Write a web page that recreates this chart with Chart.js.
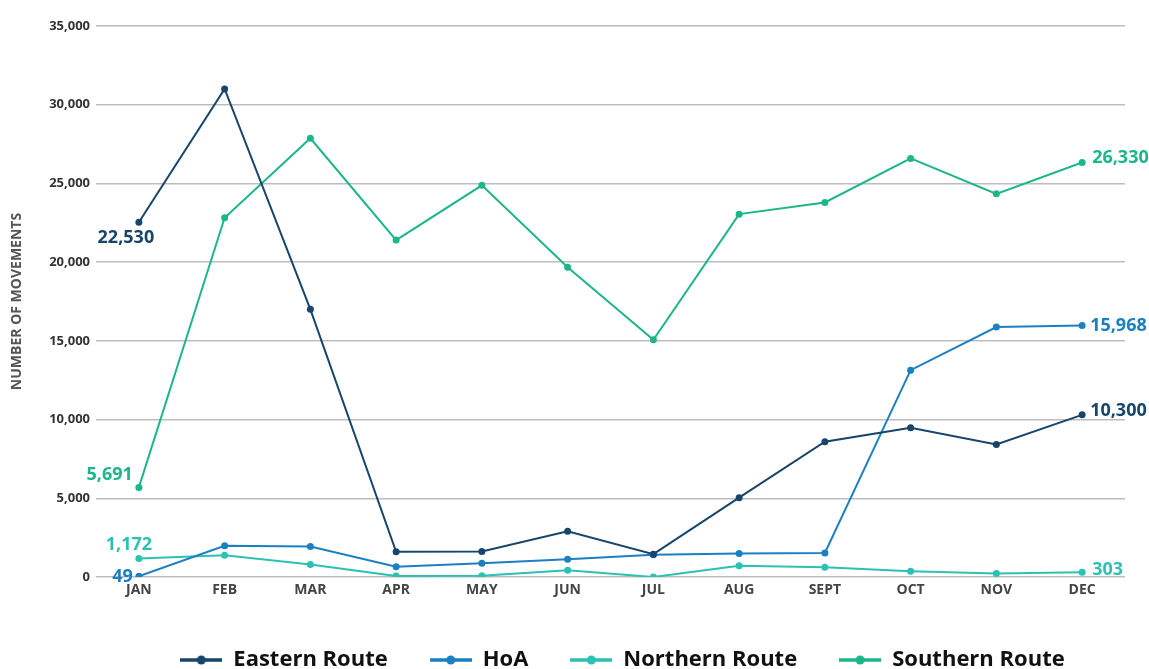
<!DOCTYPE html>
<html>
<head>
<meta charset="utf-8">
<script src="https://cdn.jsdelivr.net/npm/chart.js@4/dist/chart.umd.min.js"></script>
<style>
  html, body { margin: 0; padding: 0; background: #fff; overflow: hidden; }
  #wrap { width: 1149px; height: 669px; overflow: hidden; }
</style>
</head>
<body>
<div id="wrap"><canvas id="routesChart" width="1149" height="681"></canvas></div>
<script>
'use strict';

// ===== DATA =====
const months = ['JAN', 'FEB', 'MAR', 'APR', 'MAY', 'JUN', 'JUL', 'AUG', 'SEPT', 'OCT', 'NOV', 'DEC'];
const eastern = [22530, 31000, 17000, 1600, 1620, 2900, 1450, 5040, 8590, 9480, 8420, 10300];
const hoa = [49, 1980, 1930, 650, 870, 1120, 1420, 1490, 1530, 13140, 15880, 15968];
const northern = [1172, 1380, 790, 60, 80, 430, 0, 710, 620, 370, 230, 303];
const southern = [5691, 22820, 27870, 21400, 24880, 19680, 15070, 23050, 23790, 26590, 24340, 26330];
const seriesNames = ['Eastern Route', 'HoA', 'Northern Route', 'Southern Route'];
const yTicks = [0, 5000, 10000, 15000, 20000, 25000, 30000, 35000];

const colors = ['#18456b', '#1b80c3', '#2cc2b3', '#1cb68b'];
const FONT = "'Open Sans', 'Noto Sans', sans-serif";

// legend icon: short line with a dot in the middle
function legendIcon(color) {
    const c = document.createElement('canvas');
    c.width = 42; c.height = 12;
    const g = c.getContext('2d');
    g.strokeStyle = color; g.lineWidth = 3.5;
    g.beginPath(); g.moveTo(0, 6); g.lineTo(42, 6); g.stroke();
    g.fillStyle = color;
    g.beginPath(); g.arc(21, 6, 4.5, 0, Math.PI * 2); g.fill();
    return c;
}
const icons = colors.map(legendIcon);

// first / last value labels: [index, align, dx, dy]
const endLabels = [
    [[0, 'center', -13, 16], [11, 'left', 8, -4]],
    [[0, 'right', -6, 1], [11, 'left', 8, 0]],
    [[0, 'center', -10, -14], [11, 'left', 10, -2]],
    [[0, 'right', -6, -13], [11, 'left', 10, -5]],
];

const endLabelPlugin = {
    id: 'endLabels',
    afterDatasetsDraw(chart) {
        const { ctx } = chart;
        ctx.save();
        ctx.font = '700 18px ' + FONT;
        ctx.textBaseline = 'middle';
        chart.data.datasets.forEach((ds, i) => {
            const meta = chart.getDatasetMeta(i);
            endLabels[i].forEach(([idx, align, dx, dy]) => {
                const pt = meta.data[idx];
                ctx.fillStyle = colors[i];
                ctx.textAlign = align;
                ctx.fillText(ds.data[idx].toLocaleString('en-US'), pt.x + dx, pt.y + dy);
            });
        });
        ctx.restore();
    }
};

// legend sits a bit right of centre in the original
const legendShift = {
    id: 'legendShift',
    afterLayout(chart) {
        chart.legend.left += 60;
        chart.legend.right += 60;
    }
};

const allSeries = [eastern, hoa, northern, southern];

new Chart(document.getElementById('routesChart'), {
    type: 'line',
    data: {
        labels: months,
        datasets: allSeries.map((d, i) => ({
            label: seriesNames[i],
            data: d,
            borderColor: colors[i],
            backgroundColor: colors[i],
            borderWidth: 2,
            pointRadius: 3.5,
            pointHoverRadius: 4,
            pointBackgroundColor: colors[i],
            pointBorderWidth: 0,
            tension: 0,
        }))
    },
    options: {
        responsive: false,
        animation: false,
        layout: { padding: { top: 26, right: 24, bottom: 0, left: 0 } },
        plugins: {
            tooltip: { enabled: false },
            legend: {
                position: 'bottom',
                labels: {
                    usePointStyle: true,
                    pointStyleWidth: 42,
                    padding: 42,
                    color: '#111',
                    font: { family: FONT, size: 22, weight: '700' },
                    generateLabels(chart) {
                        const items = Chart.defaults.plugins.legend.labels.generateLabels(chart);
                        items.forEach((it, i) => { it.pointStyle = icons[i]; });
                        return items;
                    }
                }
            }
        },
        scales: {
            x: {
                offset: true,
                grid: { display: false, drawTicks: false },
                border: { display: false },
                ticks: { color: '#444', padding: 5, font: { family: FONT, size: 14, weight: '700' } },
                afterFit(scale) { scale.height = 30; }
            },
            y: {
                min: 0, max: 35000,
                afterBuildTicks(scale) { scale.ticks = yTicks.map(v => ({ value: v })); },
                grid: { color: '#bdbdbd', lineWidth: 1.5, drawTicks: false },
                border: { display: false },
                ticks: {
                    color: '#333', padding: 6,
                    font: { family: FONT, size: 13, weight: '700' },
                    callback: v => v.toLocaleString('en-US')
                },
                title: {
                    display: true,
                    text: 'NUMBER OF MOVEMENTS',
                    color: '#555',
                    padding: { top: 9, bottom: 0 },
                    font: { family: FONT, size: 14, weight: '700' }
                },
                afterFit(scale) { scale.width = 96; }
            }
        }
    },
    plugins: [endLabelPlugin, legendShift]
});
</script>
</body>
</html>
